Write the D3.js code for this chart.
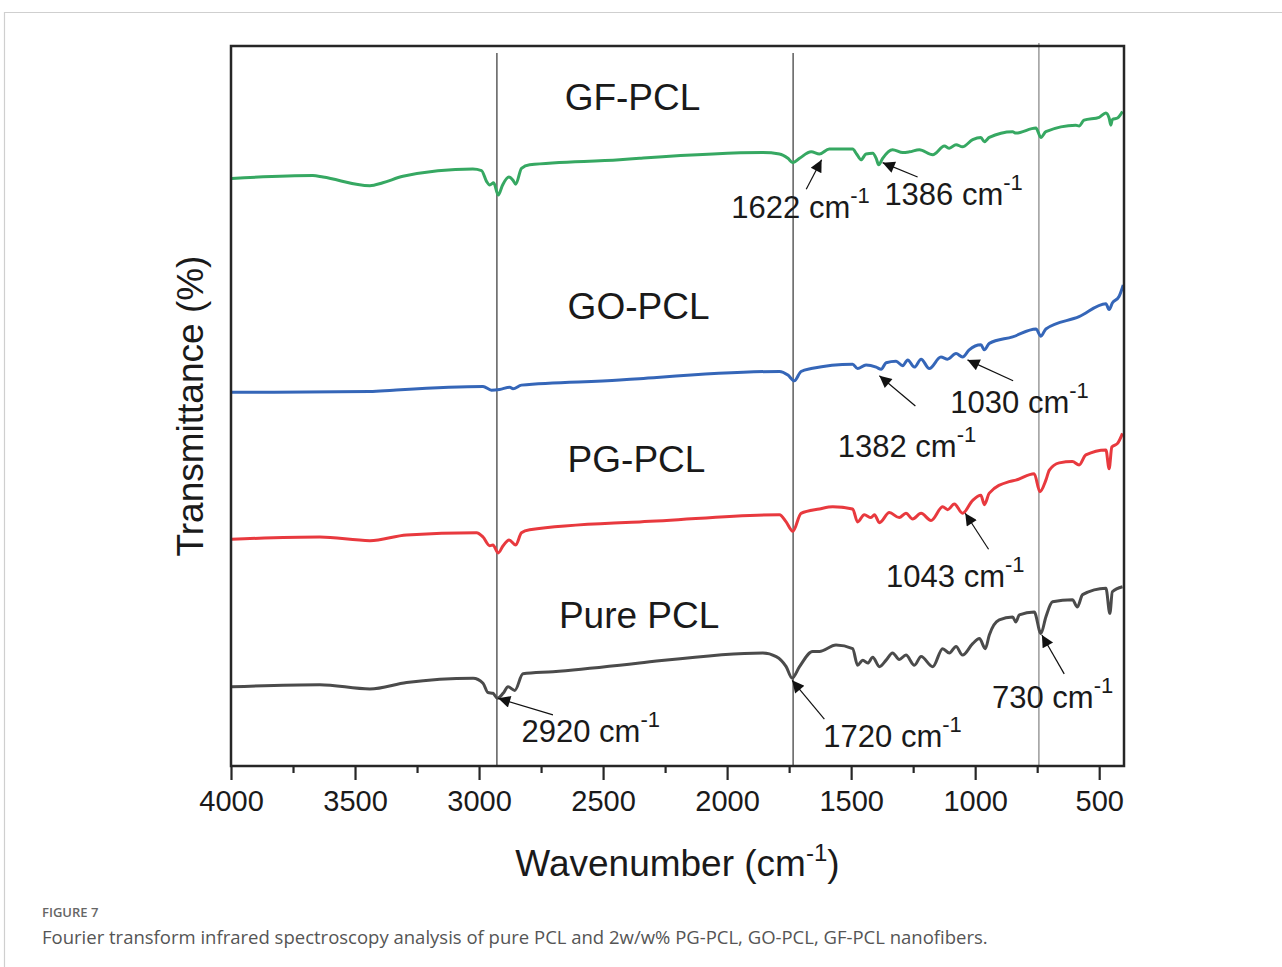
<!DOCTYPE html>
<html>
<meta charset="utf-8">
<script src="https://d3js.org/d3.v7.min.js"></script>
<style>
  body { margin: 0; background: #fff; }
  svg text { font-family: "Liberation Sans", Arial, sans-serif; fill: #1a1a1a; }
  .caption { font-family: "Open Sans", "Noto Sans", sans-serif; }
</style>
<body>
<div id="chart"></div>
<script>

// wavenumber (cm-1), transmittance (%, offset traces)
var gfPcl = [[3997,81.6],[3670,82.0],[3629,81.8],[3440,80.6],[3388,81.0],[3307,81.9],[3025,82.9],[2990,82.7],[2970,81.2],[2957,80.7],[2941,81.0],[2923,79.3],[2905,80.7],[2880,81.8],[2864,81.4],[2852,80.8],[2829,83.0],[2796,83.5],[2433,84.2],[2353,84.4],[1856,85.2],[1789,85.0],[1755,84.4],[1735,83.8],[1708,84.4],[1661,85.3],[1628,85.0],[1588,85.7],[1494,85.7],[1478,85.0],[1460,84.2],[1440,85.0],[1413,85.1],[1399,84.4],[1389,83.5],[1373,84.4],[1333,85.6],[1292,85.2],[1265,85.3],[1225,85.6],[1171,84.9],[1124,86.1],[1104,85.8],[1077,86.3],[1051,86.0],[1010,87.0],[977,87.3],[963,86.7],[943,87.3],[849,88.1],[836,87.9],[755,88.6],[735,87.3],[715,88.1],[594,89.0],[581,88.9],[561,89.7],[500,90.1],[473,90.7],[460,90.0],[453,89.0],[447,89.8],[426,90.0],[406,90.9]];

var goPcl = [[3997,51.9],[3440,52.0],[3346,52.2],[2984,52.7],[2950,52.2],[2917,52.3],[2876,52.6],[2863,52.4],[2829,52.9],[2433,53.6],[2353,53.8],[1789,54.8],[1755,54.3],[1729,53.5],[1702,54.8],[1661,55.2],[1494,55.8],[1474,55.2],[1440,55.7],[1399,55.4],[1379,55.1],[1359,56.0],[1319,56.2],[1292,55.6],[1272,56.4],[1245,55.4],[1218,56.5],[1185,55.2],[1138,56.8],[1111,56.5],[1077,57.3],[1051,56.8],[1024,57.8],[977,58.5],[963,57.8],[943,58.7],[849,59.6],[755,60.7],[735,59.7],[715,60.7],[581,62.4],[473,64.2],[460,63.4],[447,64.3],[420,65.2],[403,66.8]];

var pgPcl = [[3997,31.5],[3642,31.8],[3440,31.3],[3292,32.1],[3010,32.4],[2984,31.8],[2957,30.6],[2944,30.7],[2923,29.6],[2903,30.6],[2879,31.4],[2852,30.7],[2829,32.4],[2796,32.8],[2433,33.8],[2353,33.9],[1789,34.9],[1762,33.9],[1735,32.6],[1702,35.1],[1628,35.7],[1574,36.0],[1494,35.7],[1474,33.9],[1447,34.9],[1420,34.5],[1406,34.9],[1386,33.8],[1346,35.2],[1306,34.5],[1279,35.1],[1252,34.3],[1218,35.1],[1178,34.1],[1131,36.0],[1111,35.6],[1084,36.4],[1051,35.1],[1010,36.9],[977,37.6],[963,36.3],[943,37.9],[863,39.5],[836,39.7],[762,40.6],[739,38.1],[715,39.7],[701,41.1],[661,42.1],[608,42.3],[581,41.8],[554,43.2],[473,43.9],[460,41.3],[449,44.3],[426,44.8],[406,46.2]];

var purePcl = [[3997,11.0],[3642,11.3],[3440,10.7],[3292,11.6],[3024,12.2],[2984,11.5],[2964,10.2],[2944,10.1],[2926,9.4],[2903,10.1],[2883,11.0],[2856,10.5],[2823,12.8],[2702,13.1],[2433,14.0],[2353,14.3],[1856,15.7],[1802,15.2],[1762,13.8],[1738,12.2],[1708,13.8],[1655,15.9],[1628,15.9],[1561,16.8],[1494,16.3],[1474,14.0],[1453,14.7],[1433,14.3],[1413,15.1],[1386,13.8],[1359,14.7],[1333,15.7],[1306,14.8],[1279,15.4],[1245,14.0],[1218,15.2],[1171,13.8],[1131,16.3],[1104,15.7],[1077,16.6],[1051,15.4],[1010,17.0],[983,17.7],[959,16.3],[943,18.2],[903,20.3],[849,20.7],[836,20.0],[822,21.0],[762,21.4],[735,18.4],[715,20.7],[688,22.8],[608,23.1],[588,22.1],[567,23.8],[473,24.7],[457,21.2],[447,24.2],[406,24.9]];

var seriesNames = ["GF-PCL", "GO-PCL", "PG-PCL", "Pure PCL"];
var seriesColors = ["#36a862", "#3566b8", "#e8393e", "#4b4b4b"];
// name label anchor [wavenumber, transmittance]
var nameAnchors = [[2655, 91.1], [2643, 62.1], [2643, 40.8], [2678, 19.1]];

var majorTicks = [4000, 3500, 3000, 2500, 2000, 1500, 1000, 500];
var minorTicks = [3750, 3250, 2750, 2250, 1750, 1250, 750];
var markerLines = [2928, 1734, 743];

// peak annotations: label, label anchor, arrow tail, arrow tip
var peakLabels = ["1622", "1386", "1382", "1030", "1043", "2920", "1720", "730"];
var peakText = [[1983, 76.1], [1366, 77.9], [1554, 42.9], [1100, 49.0], [1359, 24.9], [2829, 3.4], [1612, 2.7], [932, 8.0]];
var peakTail = [[1681, 80.1], [1232, 81.8], [1241, 50.0], [847, 53.5], [946, 30.1], [2702, 7.1], [1608, 6.5], [641, 12.8]];
var peakTip = [[1619, 84.2], [1373, 83.8], [1386, 54.2], [1031, 56.4], [1040, 35.1], [2923, 9.4], [1738, 11.9], [731, 18.2]];

var W = 1282, H = 967;
var margin = {left: 231, right: 158, top: 46, bottom: 201};

var svg = d3.select("#chart").append("svg")
  .attr("width", W).attr("height", H);

// page frame
svg.append("path")
  .attr("d", "M4.5," + H + "V12.5H" + W)
  .attr("fill", "none").attr("stroke", "#cfcfcf").attr("stroke-width", 1.2);

var x = d3.scaleLinear().domain([4000, 400]).range([margin.left, 1124]);
var y = d3.scaleLinear().domain([0, 100]).range([H - margin.bottom, margin.top]);

var x0 = x.range()[0], x1 = x.range()[1], y0 = y.range()[0], y1 = y.range()[1];

// vertical marker lines
svg.selectAll(".mline").data(markerLines).enter().append("line")
  .attr("x1", function(d) { return x(d); }).attr("x2", function(d) { return x(d); })
  .attr("y1", function(d, i) { return i == 2 ? y1 - 3 : y1 + 7; }).attr("y2", y0)
  .attr("stroke", function(d, i) { return i == 2 ? "#777" : "#222"; })
  .attr("stroke-width", 1.1);

// spectra
var line = d3.line()
  .x(function(d) { return x(d[0]); })
  .y(function(d) { return y(d[1]); })
  .curve(d3.curveMonotoneX);

var allSeries = [gfPcl, goPcl, pgPcl, purePcl];
svg.selectAll(".spec").data(allSeries).enter().append("path")
  .attr("d", line)
  .attr("fill", "none")
  .attr("stroke", function(d, i) { return seriesColors[i]; })
  .attr("stroke-width", 3)
  .attr("stroke-linejoin", "round");

// frame
svg.append("rect")
  .attr("x", x0).attr("y", y1)
  .attr("width", x1 - x0).attr("height", y0 - y1)
  .attr("fill", "none").attr("stroke", "#262626").attr("stroke-width", 2.5);

// x axis
var xAxis = svg.append("g").attr("transform", "translate(0," + y0 + ")")
  .call(d3.axisBottom(x).tickValues(majorTicks).tickSize(14).tickPadding(10).tickFormat(d3.format("d")));
xAxis.select(".domain").remove();
xAxis.selectAll("line").attr("stroke", "#262626").attr("stroke-width", 2.2);
xAxis.selectAll("text").attr("font-size", 29).attr("fill", "#1a1a1a")
  .attr("font-family", "'Liberation Sans', Arial, sans-serif");

var xMinor = svg.append("g").attr("transform", "translate(0," + y0 + ")")
  .call(d3.axisBottom(x).tickValues(minorTicks).tickSize(7).tickFormat(""));
xMinor.select(".domain").remove();
xMinor.selectAll("line").attr("stroke", "#262626").attr("stroke-width", 2.2);

// axis titles
var xt = svg.append("text")
  .attr("x", (x0 + x1) / 2).attr("y", 876)
  .attr("text-anchor", "middle").attr("font-size", 37);
xt.append("tspan").text("Wavenumber (cm");
xt.append("tspan").attr("dy", -15).attr("font-size", 24).text("-1");
xt.append("tspan").attr("dy", 15).text(")");

svg.append("text")
  .attr("transform", "translate(203," + (y0 + y1) / 2 + ") rotate(-90)")
  .attr("text-anchor", "middle").attr("font-size", 37)
  .text("Transmittance (%)");

// sample names
svg.selectAll(".sname").data(seriesNames).enter().append("text")
  .attr("x", function(d, i) { return x(nameAnchors[i][0]); })
  .attr("y", function(d, i) { return y(nameAnchors[i][1]); })
  .attr("font-size", 37)
  .text(function(d) { return d; });

// arrows
var defs = svg.append("defs");
defs.append("marker")
  .attr("id", "arrowhead")
  .attr("viewBox", "0 0 10 10")
  .attr("refX", 10).attr("refY", 5)
  .attr("markerWidth", 16).attr("markerHeight", 12)
  .attr("markerUnits", "userSpaceOnUse")
  .attr("orient", "auto")
  .append("path").attr("d", "M0,0L10,5L0,10Z").attr("fill", "#111");

svg.selectAll(".arrow").data(peakLabels).enter().append("line")
  .attr("x1", function(d, i) { return x(peakTail[i][0]); })
  .attr("y1", function(d, i) { return y(peakTail[i][1]); })
  .attr("x2", function(d, i) { return x(peakTip[i][0]); })
  .attr("y2", function(d, i) { return y(peakTip[i][1]); })
  .attr("stroke", "#111").attr("stroke-width", 1.2)
  .attr("marker-end", "url(#arrowhead)");

var pl = svg.selectAll(".peak").data(peakLabels).enter().append("text")
  .attr("x", function(d, i) { return x(peakText[i][0]); })
  .attr("y", function(d, i) { return y(peakText[i][1]); })
  .attr("font-size", 31);
pl.append("tspan").text(function(d) { return d + " cm"; });
pl.append("tspan").attr("dy", -15).attr("font-size", 22).text("-1");

// caption
svg.append("text").attr("class", "caption")
  .attr("x", 42).attr("y", 917)
  .attr("font-size", 13).attr("font-weight", 600)
  .style("fill", "#666")
  .text("FIGURE 7");
svg.append("text").attr("class", "caption")
  .attr("x", 42).attr("y", 944)
  .attr("font-size", 18.5)
  .style("fill", "#555")
  .text("Fourier transform infrared spectroscopy analysis of pure PCL and 2w/w% PG-PCL, GO-PCL, GF-PCL nanofibers.");

</script>
</body>
</html>
